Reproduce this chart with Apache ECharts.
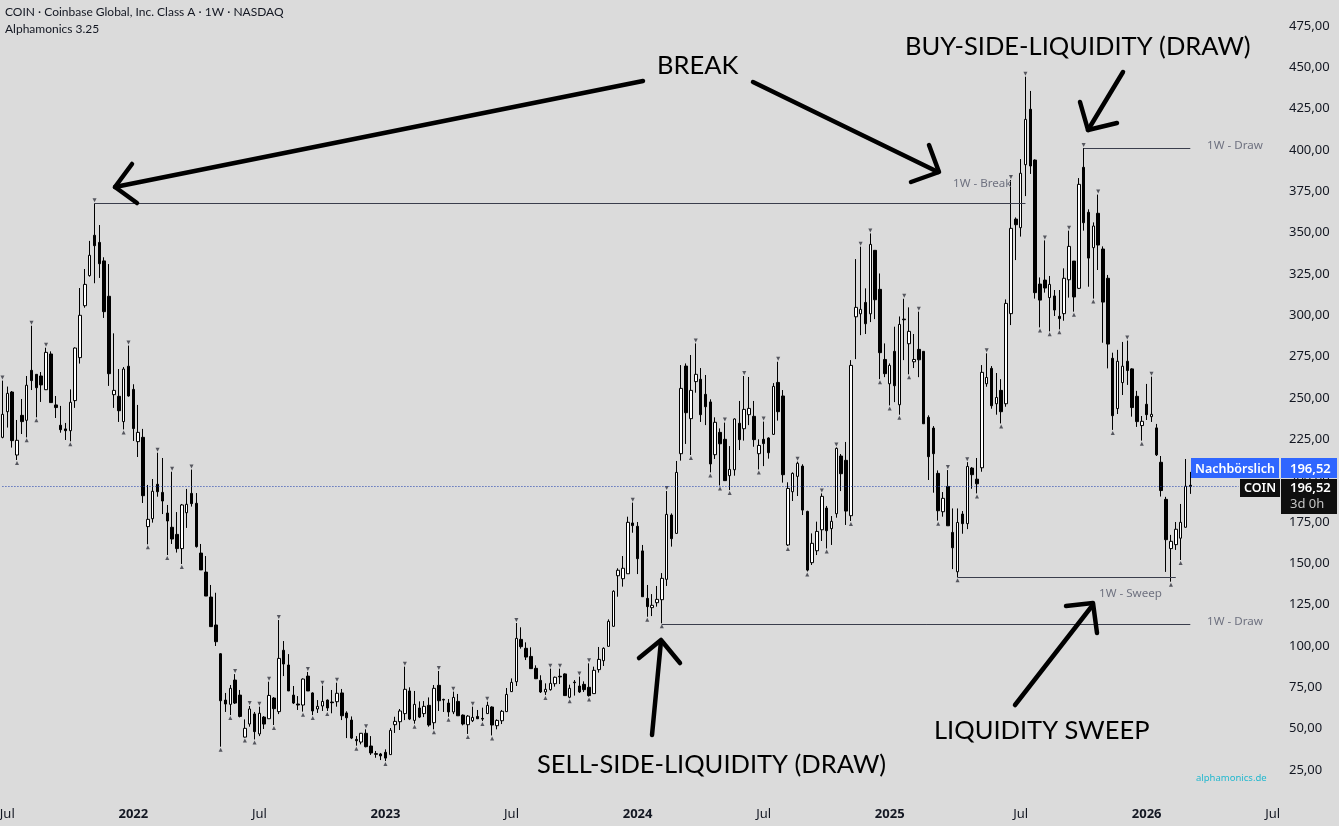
<!DOCTYPE html>
<html>
<head>
<meta charset="utf-8">
<style>
  html, body { margin: 0; padding: 0; background: #dbdbdb; }
  #chart { width: 1339px; height: 826px; }
</style>
<script src="https://cdn.jsdelivr.net/npm/echarts@6/dist/echarts.min.js"></script>
</head>
<body>
<div id="chart"></div>
<script>
// weekly candles
var openPrices = [
  226.2,241.7,253.6,215.5,239.5,236.5,266.7,264.3,263.3,255.0,
  276.6,245.8,233.5,231.3,230.2,248.4,274.4,305.8,324.0,348.4,
  344.1,332.9,311.5,252.0,251.0,235.7,269.2,255.2,223.6,226.2,
  172.2,177.0,197.8,192.9,180.4,171.8,167.5,158.9,180.6,192.3,
  186.3,156.2,144.7,129.6,112.7,95.3,67.3,64.7,79.4,70.3,
  44.9,52.8,58.9,46.8,57.0,56.0,68.5,60.3,97.4,88.5,
  70.3,64.9,64.3,81.8,71.6,61.9,63.7,67.3,66.1,66.3,
  71.6,59.5,55.2,43.5,41.9,47.2,39.5,34.9,34.7,35.7,
  34.3,52.4,54.2,59.1,72.8,55.0,62.5,59.1,64.1,53.6,
  76.2,67.7,65.5,60.1,66.5,58.2,52.4,54.8,57.4,56.2,
  59.1,63.1,51.8,54.8,60.3,72.4,78.4,104.0,98.6,93.7,
  86.5,79.2,72.2,73.6,77.2,81.7,83.1,69.0,78.2,75.8,
  76.8,75.0,71.2,85.7,91.1,99.8,111.9,142.5,140.7,143.7,
  174.4,172.4,157.5,128.8,123.2,126.2,128.0,140.3,179.2,168.1,
  216.3,269.3,237.5,259.9,261.3,252.2,247.6,215.7,229.2,225.0,
  203.0,206.6,234.7,231.4,239.9,238.9,216.3,225.0,225.8,228.0,
  259.4,251.2,161.1,193.3,202.6,208.8,181.4,150.4,157.6,170.3,
  183.4,171.0,180.0,214.9,212.3,178.8,299.1,300.9,307.8,300.9,
  339.3,315.7,273.3,258.6,278.2,245.9,297.7,282.8,271.9,279.4,
  278.2,238.3,231.8,204.4,181.2,196.5,168.7,144.9,179.8,174.0,
  207.6,200.9,207.8,258.6,267.9,246.5,254.6,246.5,301.0,358.2,
  353.0,391.1,424.6,393.9,318.9,321.3,310.7,311.7,299.4,301.0,
  321.5,332.8,316.3,389.5,362.3,340.9,361.7,340.1,322.4,274.0,
  243.6,259.3,272.2,267.6,251.0,233.3,246.2,238.7,231.9,211.1,
  188.7,158.9,161.3,165.2,171.8,197.2
];
var closePrices = [
  240.1,252.8,224.2,224.4,235.7,257.7,260.5,256.2,257.9,277.6,
  247.2,244.2,230.8,230.2,247.4,280.2,300.0,318.7,336.3,342.1,
  331.2,302.2,264.7,254.6,242.3,267.5,251.2,231.5,229.2,190.9,
  176.6,193.6,193.3,187.7,175.6,164.7,158.9,185.3,185.7,186.1,
  160.1,146.0,130.2,111.7,102.6,66.9,64.9,74.4,65.5,57.4,
  50.2,61.9,48.2,59.3,52.8,70.1,62.1,92.5,89.1,72.8,
  65.5,64.3,80.0,72.8,60.7,63.5,66.5,62.5,65.7,71.4,
  57.8,56.6,44.3,42.7,47.2,39.1,35.3,34.5,33.5,32.2,
  49.0,54.4,60.7,73.8,55.8,64.7,57.0,63.5,52.2,74.4,
  66.9,67.3,60.1,68.9,57.8,52.8,57.6,56.8,56.0,55.8,
  64.1,52.2,55.0,60.5,70.7,78.0,104.6,99.6,93.3,86.3,
  80.2,72.2,73.8,77.4,81.1,81.3,70.0,74.4,77.8,72.2,
  73.6,70.0,85.3,91.9,98.6,114.9,133.1,145.8,147.0,174.8,
  172.8,152.8,129.8,123.8,124.6,128.2,140.9,179.6,164.9,205.0,
  255.8,241.1,254.6,264.3,239.9,244.7,210.1,235.3,222.3,200.0,
  206.8,237.3,224.8,243.1,243.7,224.8,221.3,222.4,216.9,257.0,
  241.7,203.6,195.3,204.4,210.5,182.2,145.9,162.1,169.3,190.5,
  169.7,175.4,219.5,204.2,181.6,269.7,304.8,303.6,294.9,342.9,
  309.4,277.4,264.7,269.7,257.4,294.5,297.3,290.3,273.3,273.1,
  234.4,214.5,216.3,181.8,189.3,172.7,159.4,174.7,174.0,208.6,
  203.6,198.1,265.5,262.4,245.3,250.3,241.7,307.2,352.6,354.8,
  385.9,418.5,390.3,313.7,309.2,316.5,318.7,303.2,298.0,322.4,
  341.7,311.1,379.2,356.0,334.6,354.0,342.5,308.0,282.6,239.3,
  272.2,269.2,266.6,244.2,235.7,235.9,239.9,240.1,215.6,194.0,
  164.3,163.3,170.6,174.8,196.6,196.52
];
var lowPrices = [
  225.6,232.1,220.0,212.5,228.2,226.2,254.8,238.3,247.6,254.8,
  247.2,237.9,229.0,224.6,223.8,244.0,270.8,304.6,323.4,319.4,
  322.6,298.4,257.3,244.0,235.5,231.0,250.8,224.0,214.3,186.5,
  161.5,174.6,190.3,179.8,155.0,161.7,156.5,149.6,171.4,184.3,
  159.5,146.0,130.2,111.7,100.0,39.1,60.1,58.2,64.9,56.8,
  44.7,51.2,43.5,45.5,49.8,56.0,52.2,58.8,81.8,72.8,
  64.9,61.3,60.3,72.8,58.2,59.5,60.7,60.7,59.3,63.3,
  55.2,44.3,43.7,39.7,40.5,38.7,34.1,32.4,31.0,30.4,
  34.3,47.4,49.2,55.2,55.2,53.0,56.4,57.0,51.2,49.6,
  60.7,60.1,57.2,58.8,57.8,52.0,46.8,54.0,56.0,54.6,
  58.9,45.9,49.6,52.8,60.1,72.2,75.8,98.4,91.5,86.3,
  80.0,71.6,70.4,73.0,75.4,77.0,70.0,68.4,70.0,71.6,
  72.2,69.4,71.2,83.9,87.9,99.6,111.7,129.8,135.9,143.7,
  168.5,143.5,129.8,117.7,118.1,123.8,113.7,136.3,160.1,167.9,
  212.1,222.2,215.5,253.2,235.5,233.6,205.0,213.1,197.1,200.0,
  194.3,203.0,218.5,224.2,233.6,220.5,206.8,208.8,213.3,227.6,
  236.3,198.8,160.5,187.7,190.7,179.2,145.1,149.0,155.0,163.5,
  159.0,161.1,177.6,193.7,173.2,175.6,273.5,288.0,288.7,295.9,
  297.7,261.4,262.6,245.5,247.5,239.9,272.9,264.3,268.1,262.6,
  234.4,200.4,192.7,175.8,178.2,172.7,146.5,141.5,167.9,170.7,
  195.1,192.3,205.4,256.8,243.5,239.9,234.6,244.7,294.1,333.4,
  347.6,372.1,385.5,310.1,292.7,313.7,290.3,299.6,291.5,296.7,
  310.7,302.2,315.9,351.2,317.3,310.1,327.4,283.4,267.9,230.7,
  240.3,251.8,257.9,238.7,232.5,224.2,236.7,235.5,214.9,190.4,
  144.8,138.9,158.1,152.0,171.6,192.0
];
var highPrices = [
  260.5,256.9,254.2,236.7,249.4,263.3,293.7,264.3,265.7,280.4,
  278.2,251.2,245.2,234.9,255.2,280.6,316.5,328.0,345.0,367.7,
  354.6,335.1,331.0,289.1,267.5,268.7,281.7,258.3,245.8,231.3,
  197.4,201.0,216.9,213.7,185.3,205.4,181.0,185.9,195.0,206.7,
  192.5,161.7,154.4,136.9,132.2,95.7,71.6,76.4,83.0,73.4,
  55.6,63.7,60.1,63.3,57.6,78.4,69.1,115.7,103.0,95.1,
  75.8,69.7,80.4,84.3,72.0,67.3,76.0,67.7,73.4,77.8,
  74.0,60.5,57.4,45.5,47.4,49.6,45.5,36.5,35.3,37.5,
  50.4,57.2,61.9,87.5,75.0,72.8,66.5,66.7,68.9,76.4,
  84.9,68.1,67.9,72.4,71.0,58.6,58.2,63.3,61.3,62.7,
  66.3,63.5,55.6,61.3,74.6,80.4,113.9,111.3,102.2,99.2,
  88.3,82.3,77.4,86.3,81.5,86.3,83.5,76.6,79.4,81.5,
  78.6,89.5,87.5,99.4,99.2,116.1,133.7,147.0,154.4,178.2,
  186.7,175.0,161.1,136.9,131.4,136.3,144.1,193.7,180.2,211.9,
  269.9,270.9,276.0,283.0,268.1,263.9,249.2,238.3,231.6,235.1,
  220.9,237.7,248.2,263.3,262.7,248.2,225.0,235.7,226.2,259.0,
  271.9,254.8,199.0,205.0,211.5,209.9,181.8,168.1,175.2,192.3,
  184.7,178.6,220.1,216.1,223.4,272.9,334.0,341.5,316.3,349.5,
  339.3,325.3,283.0,270.9,293.1,299.3,310.0,304.8,288.7,302.2,
  278.2,239.5,233.0,206.2,193.1,206.4,183.2,183.2,181.6,211.2,
  208.2,213.7,269.9,277.0,269.3,265.1,261.4,309.6,381.8,359.2,
  394.5,444.3,435.7,394.3,322.9,345.3,323.8,315.3,315.3,328.4,
  351.2,332.8,383.0,401.2,364.1,356.2,373.0,341.7,324.4,277.4,
  279.1,283.9,284.7,268.0,254.3,239.1,258.5,262.9,234.3,214.9,
  190.2,167.2,175.0,185.9,213.1,205.3
];

// candle numbers carrying a little pivot marker
var pivotHighs = [0,6,9,19,26,32,35,39,48,51,53,55,57,63,66,69,75,83,90,93,97,100,106,
  113,115,119,121,130,137,143,149,153,157,160,164,169,172,177,179,186,189,195,199,203,
  208,211,215,220,223,226,232,237];
var pivotLows = [3,5,7,14,25,30,34,37,45,47,50,52,56,62,64,67,73,79,85,89,92,96,99,101,
  112,117,121,133,136,142,146,148,150,156,162,166,170,175,181,183,185,187,193,197,201,206,
  214,216,218,221,225,229,235,241,243];

// x axis: 246 weeks plus empty future weeks
var futureWeeks = 18;
var weekLabels = {1:'Jul',27:'2022',53:'Jul',79:'2023',105:'Jul',131:'2024',157:'Jul',183:'2025',210:'Jul',236:'2026',262:'Jul'};
var priceTicks = [25,50,75,100,125,150,175,200,225,250,275,300,325,350,375,400,425,450,475];
var lastPrice = 196.52;

// levels drawn on the chart: [from candle, to candle, price]
var breakLevel = [19, 211, 367.7];
var buyDraw = [223, 245, 401.1];
var sweepLevel = [197, 242, 141.5];
var sellDraw = [136, 245, 113.4];

var font = '"Noto Sans", sans-serif';
var bigFont = 'Lato, sans-serif';
var ink = '#131722';

var categories = [];
for (var i = 0; i < openPrices.length + futureWeeks; i++) categories.push(String(i));

var candles = openPrices.map(function (o, i) {
  return [o, closePrices[i], lowPrices[i], highPrices[i]];
});

function levelLine(l) {
  return [{ coord: [String(l[0]), l[2]] }, { coord: [String(l[1]), l[2]] }];
}

function arrow(points) {
  return {
    type: 'polyline',
    z: 50,
    shape: { points: points },
    style: { stroke: '#000', lineWidth: 4.5, fill: null, lineCap: 'round', lineJoin: 'round' }
  };
}

function note(text, x, y, size, color, extra) {
  var style = { text: text, x: x, y: y, fontSize: size, fontFamily: font, fill: color, verticalAlign: 'middle' };
  for (var k in extra || {}) style[k] = extra[k];
  return { type: 'text', z: 60, style: style };
}

function bigNote(text, x, y) {
  return note(text, x, y, 25.5, '#000', { fontFamily: bigFont });
}

function box(x, y, w, h, color) {
  return { type: 'rect', z: 70, shape: { x: x, y: y, width: w, height: h }, style: { fill: color } };
}

function tag(text, x, y, size, color, extra) {
  var t = note(text, x, y, size, color, extra);
  t.z = 71;
  return t;
}

var chart = echarts.init(document.getElementById('chart'));

var option = {
  animation: false,
  backgroundColor: '#dbdbdb',
  textStyle: { fontFamily: font },
  grid: { left: 0, right: 59, top: 0, bottom: 25, outerBoundsMode: 'none' },
  xAxis: {
    type: 'category',
    data: categories,
    boundaryGap: true,
    axisLine: { show: false },
    axisTick: { show: false },
    splitLine: { show: false },
    axisLabel: {
      interval: function (i) { return weekLabels[i] !== undefined; },
      formatter: function (v, i) {
        var t = weekLabels[i];
        return t === 'Jul' ? t : '{y|' + t + '}';
      },
      color: ink,
      fontSize: 13,
      margin: 7,
      rich: { y: { fontWeight: 'bold', fontSize: 13, color: ink, fontFamily: font } }
    }
  },
  yAxis: {
    type: 'value',
    position: 'right',
    min: 6.25,
    max: 490.7,
    axisLine: { show: false },
    axisTick: { show: false },
    splitLine: { show: false },
    axisLabel: {
      customValues: priceTicks,
      formatter: function (v) { return v.toFixed(2).replace('.', ','); },
      color: ink,
      fontSize: 13,
      margin: 9,
      padding: [3, 0, 0, 0]
    }
  },
  series: [
    {
      type: 'candlestick',
      data: candles,
      barWidth: 3,
      itemStyle: { color: '#ffffff', color0: '#000000', borderColor: '#000000', borderColor0: '#000000', borderWidth: 1 },
      markLine: {
        silent: true,
        symbol: 'none',
        label: { show: false },
        lineStyle: { color: '#3a3d4c', width: 1, type: 'solid' },
        data: [levelLine(breakLevel), levelLine(buyDraw), levelLine(sweepLevel), levelLine(sellDraw),
          [{ coord: ['0', lastPrice], lineStyle: { color: '#1f3fae', width: 1, type: [1, 2] } }, { coord: ['255', lastPrice] }]]
      }
    },
    {
      type: 'scatter',
      symbol: 'triangle',
      symbolSize: [4, 4],
      symbolRotate: 180,
      symbolOffset: [0, -3],
      itemStyle: { color: '#33353f' },
      data: pivotHighs.map(function (i) { return [String(i), highPrices[i]]; })
    },
    {
      type: 'scatter',
      symbol: 'triangle',
      symbolSize: [4, 4],
      symbolOffset: [0, 3],
      itemStyle: { color: '#33353f' },
      data: pivotLows.map(function (i) { return [String(i), lowPrices[i]]; })
    }
  ],
  graphic: [
    note('COIN · Coinbase Global, Inc. Class A · 1W · NASDAQ', 5, 12, 12, ink, { fontFamily: bigFont }),
    note('Alphamonics 3.25', 5, 29, 12, ink, { fontFamily: bigFont }),
    bigNote('BREAK', 657, 66),
    bigNote('BUY-SIDE-LIQUIDITY (DRAW)', 905, 47),
    bigNote('SELL-SIDE-LIQUIDITY (DRAW)', 537, 765),
    bigNote('LIQUIDITY SWEEP', 934, 731),
    note('1W - Draw', 1207, 146, 11.6, '#6f7280'),
    note('1W - Break', 953, 184, 11.6, '#6f7280'),
    note('1W - Sweep', 1099, 594, 11.6, '#6f7280'),
    note('1W - Draw', 1207, 622, 11.6, '#6f7280'),
    note('alphamonics.de', 1196, 778, 9.5, '#22b8cf'),
    arrow([[643, 81], [115, 187]]),
    arrow([[132, 164], [115, 187], [137, 203]]),
    arrow([[753, 82], [938, 172]]),
    arrow([[929, 145], [939, 172], [911, 182]]),
    arrow([[1123, 72], [1088, 130]]),
    arrow([[1080, 102], [1088, 130], [1117, 123]]),
    arrow([[652, 735], [661, 641]]),
    arrow([[639, 658], [661, 640], [680, 663]]),
    arrow([[1015, 705], [1092, 606]]),
    arrow([[1066, 606], [1093, 603], [1097, 633]]),
    box(1191, 458, 88, 20, '#2f66ff'),
    tag('Nachbörslich', 1195, 469, 12.5, '#ffffff', { fontWeight: 600 }),
    box(1281, 458, 56, 20, '#2f66ff'),
    tag('196,52', 1290, 469, 13, '#ffffff', { fontWeight: 600 }),
    box(1240, 479, 40, 18, '#0f0f0f'),
    tag('COIN', 1244, 488, 12.5, '#ffffff', { fontWeight: 600 }),
    box(1281, 479, 56, 35, '#0f0f0f'),
    tag('196,52', 1290, 488, 13, '#ffffff', { fontWeight: 600 }),
    tag('3d 0h', 1290, 504, 13, '#c4c4c4')
  ]
};

chart.setOption(option);
</script>
</body>
</html>
